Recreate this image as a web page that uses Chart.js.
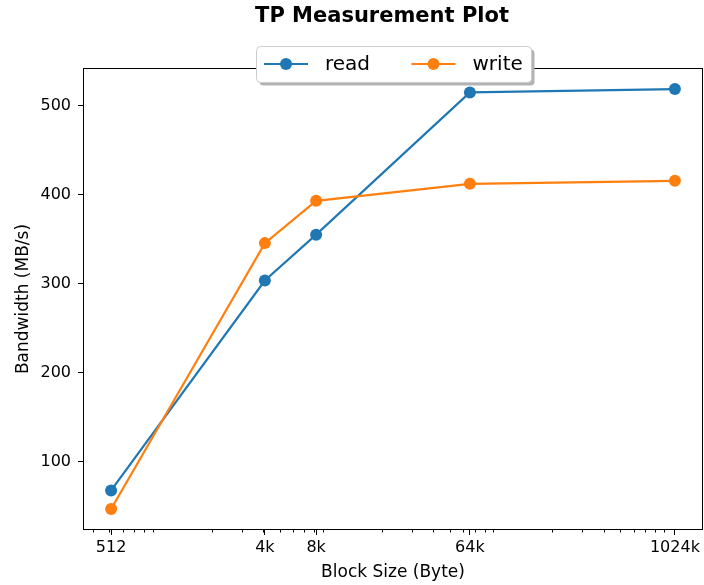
<!DOCTYPE html>
<html>
<head>
<meta charset="utf-8">
<script src="https://cdn.jsdelivr.net/npm/chart.js@4"></script>
<style>
  html, body { margin: 0; padding: 0; background: #fff; }
  #wrap { width: 704px; height: 585px; }
</style>
</head>
<body>
<div id="wrap"><canvas id="tpChart" width="704" height="585"></canvas></div>
<script>
// datos del grafico
const blockSizes = [512, 4096, 8192, 65536, 1048576];
const blockLabels = ['512', '4k', '8k', '64k', '1024k'];
const readBw = [68, 303.5, 355, 514.6, 518.4];
const writeBw = [47.2, 345.5, 393, 412, 415.4];
const yTicks = [100, 200, 300, 400, 500];

const FONT = "'DejaVu Sans', 'Liberation Sans', sans-serif";
const BLUE = '#1f77b4';
const ORANGE = '#ff7f0e';

function toPoints(values) {
    return blockSizes.map((b, i) => ({ x: b, y: values[i] }));
}

// marco, ticks menores, titulo y leyenda
const extrasPlugin = {
    id: 'extras',
    afterDraw(chart) {
        const ctx = chart.ctx;
        const area = chart.chartArea;
        const xs = chart.scales.x;

        ctx.save();
        ctx.strokeStyle = '#000';
        ctx.lineWidth = 1;
        const l = Math.round(area.left) + 0.5, r = Math.round(area.right) - 0.5;
        const t = Math.round(area.top) + 0.5, b = Math.round(area.bottom) - 0.5;
        ctx.strokeRect(l, t, r - l, b - t);

        // ticks menores del eje log
        ctx.beginPath();
        for (let k = 2; k <= 6; k++) {
            for (let s = 2; s <= 9; s++) {
                const v = s * Math.pow(10, k);
                if (v < xs.min || v > xs.max) continue;
                const px = Math.round(xs.getPixelForValue(v)) + 0.5;
                ctx.moveTo(px, b);
                ctx.lineTo(px, b + 3);
            }
        }
        ctx.stroke();

        // titulo
        ctx.fillStyle = '#000';
        ctx.font = 'bold 21px ' + FONT;
        ctx.textAlign = 'center';
        ctx.textBaseline = 'middle';
        ctx.fillText('TP Measurement Plot', 382, 17);

        // leyenda
        const cx = (area.left + area.right) / 2;
        const bw = 275, bh = 36;
        const bx = Math.round(cx - bw / 2) + 0.5, by = Math.round(area.top - 22) + 0.5;
        ctx.fillStyle = '#b3b3b3';
        ctx.beginPath();
        ctx.roundRect(bx + 3, by + 3, bw, bh, 4);
        ctx.fill();
        ctx.fillStyle = '#fff';
        ctx.strokeStyle = '#cccccc';
        ctx.beginPath();
        ctx.roundRect(bx, by, bw, bh, 4);
        ctx.fill();
        ctx.stroke();

        const rowY = by + 17.5;
        const entries = [
            { label: 'read', color: BLUE, x: bx + 7.5 },
            { label: 'write', color: ORANGE, x: bx + 155 }
        ];
        ctx.font = '20px ' + FONT;
        ctx.textAlign = 'left';
        entries.forEach(e => {
            ctx.strokeStyle = e.color;
            ctx.lineWidth = 2;
            ctx.beginPath();
            ctx.moveTo(e.x, rowY);
            ctx.lineTo(e.x + 44, rowY);
            ctx.stroke();
            ctx.fillStyle = e.color;
            ctx.beginPath();
            ctx.arc(e.x + 22, rowY, 6, 0, Math.PI * 2);
            ctx.fill();
            ctx.fillStyle = '#000';
            ctx.fillText(e.label, e.x + 61, rowY + 1);
        });
        ctx.restore();
    }
};

const ctx = document.getElementById('tpChart').getContext('2d');
const tpChart = new Chart(ctx, {
    type: 'line',
    data: {
        datasets: [
            {
                label: 'read',
                data: toPoints(readBw),
                borderColor: BLUE,
                backgroundColor: BLUE,
                pointBackgroundColor: BLUE,
                pointBorderWidth: 0,
                pointRadius: 6,
                borderWidth: 2.2,
                tension: 0,
                order: 2
            },
            {
                label: 'write',
                data: toPoints(writeBw),
                borderColor: ORANGE,
                backgroundColor: ORANGE,
                pointBackgroundColor: ORANGE,
                pointBorderWidth: 0,
                pointRadius: 6,
                borderWidth: 2.2,
                tension: 0,
                order: 1
            }
        ]
    },
    options: {
        responsive: false,
        animation: false,
        clip: false,
        layout: { autoPadding: false, padding: { top: 68, right: 1, left: 0, bottom: 0 } },
        plugins: {
            legend: { display: false },
            title: { display: false },
            tooltip: { enabled: false }
        },
        scales: {
            x: {
                type: 'logarithmic',
                min: 350.1,
                max: 1533100,
                afterBuildTicks(scale) {
                    scale.ticks = blockSizes.map(v => ({ value: v }));
                },
                afterFit(scale) {
                    scale.height = 55;
                    scale.paddingLeft = 0;
                    scale.paddingRight = 0;
                },
                grid: { display: true, drawOnChartArea: false, drawTicks: true, tickLength: 5, tickColor: '#000', tickWidth: 1 },
                border: { display: false },
                ticks: {
                    autoSkip: false,
                    maxRotation: 0,
                    padding: 3,
                    color: '#000',
                    font: { family: FONT, size: 16 },
                    callback: (value, index) => blockLabels[index]
                },
                title: {
                    display: true,
                    text: 'Block Size (Byte)',
                    color: '#000',
                    font: { family: FONT, size: 17 },
                    padding: { top: 0, bottom: 2 }
                }
            },
            y: {
                type: 'linear',
                min: 23.6,
                max: 542,
                afterBuildTicks(scale) {
                    scale.ticks = yTicks.map(v => ({ value: v }));
                },
                afterFit(scale) {
                    scale.width = 83;
                    scale.paddingTop = 0;
                    scale.paddingBottom = 0;
                },
                grid: { display: true, drawOnChartArea: false, drawTicks: true, tickLength: 5, tickColor: '#000', tickWidth: 1 },
                border: { display: false },
                ticks: {
                    padding: 7,
                    color: '#000',
                    font: { family: FONT, size: 16 }
                },
                title: {
                    display: true,
                    text: 'Bandwidth (MB/s)',
                    color: '#000',
                    font: { family: FONT, size: 17 },
                    padding: { top: 13, bottom: 0 }
                }
            }
        }
    },
    plugins: [extrasPlugin]
});
</script>
</body>
</html>
